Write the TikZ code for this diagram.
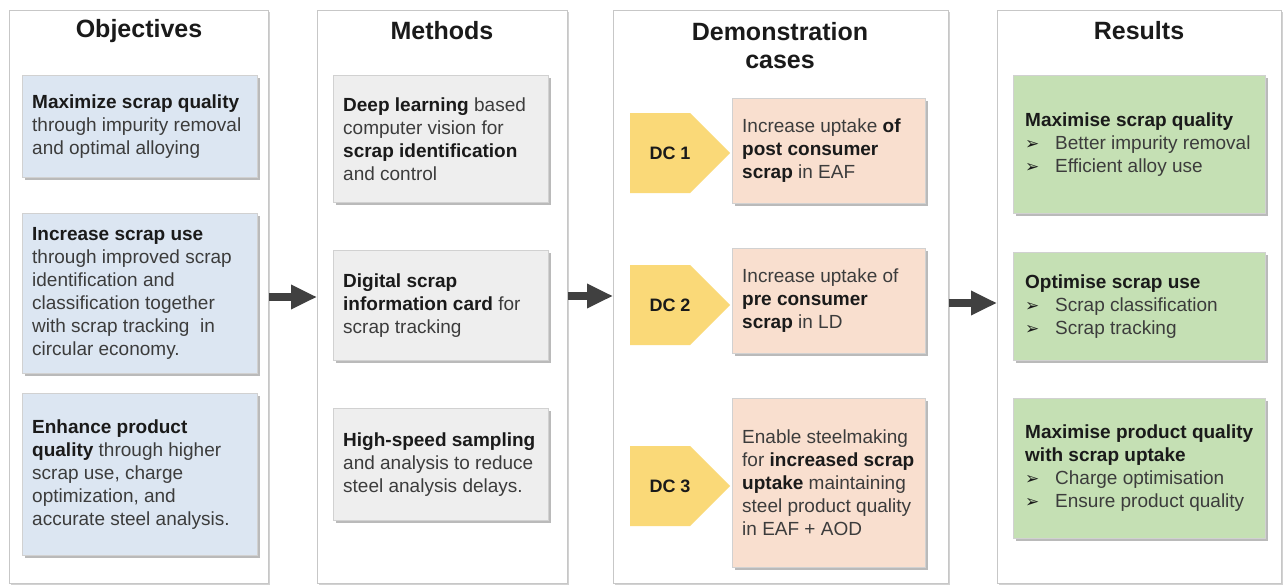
\documentclass[tikz,border=0pt]{standalone}
\usepackage{fontspec}
\setmainfont{Liberation Sans}
\newfontfamily\dejavu{DejaVu Sans}
\usetikzlibrary{shadows,arrows.meta,calc}
\definecolor{txt}{HTML}{3C3C3C}
\definecolor{bld}{HTML}{1A1A1A}
\definecolor{objfill}{HTML}{DCE6F2}
\definecolor{metfill}{HTML}{EEEEEE}
\definecolor{dcfill}{HTML}{F9DFCF}
\definecolor{resfill}{HTML}{C5E0B4}
\definecolor{tabfill}{HTML}{FAD978}
\definecolor{arr}{HTML}{404040}
\newcommand\bt[1]{\textbf{\color{bld}#1}}
\newcommand\bul{\makebox[30pt][l]{\color{bld}\dejavu\fontsize{17}{17}\selectfont ➢}}
\begin{document}
\begin{tikzpicture}[x=1pt,y=-1pt,
  panel/.style={draw=black!22, fill=white, line width=0.8pt, inner sep=0pt, anchor=north west,
    drop shadow={shadow xshift=1.5pt, shadow yshift=-1.5pt, opacity=0.35, fill=black!50}},
  card/.style={draw=black!18, line width=0.6pt, inner sep=0pt, anchor=north west,
    drop shadow={shadow xshift=2.5pt, shadow yshift=-2.5pt, opacity=0.45, fill=black!60}},
  sz/.style 2 args={minimum width=#1pt, minimum height=#2pt},
  body/.style={anchor=west, align=left, inner sep=0pt, text=txt, font=\fontsize{19}{23}\selectfont},
  title/.style={font=\fontsize{25}{28}\selectfont\bfseries, text=bld, align=center, inner sep=0pt},
  dcl/.style={font=\fontsize{18}{20}\selectfont\bfseries, text=bld, inner sep=0pt},
  bigarrow/.style={arr, line width=8pt, -{Triangle[length=26pt,width=23pt]}}
]
\useasboundingbox[fill=white] (0,0) rectangle (1284,586);

% panels
\node[panel, sz={259}{573}] (p1) at (9,10) {};
\node[panel, sz={250}{573}] (p2) at (317,10) {};
\node[panel, sz={335}{573}] (p3) at (613,10) {};
\node[panel, sz={284}{573}] (p4) at (997,10) {};

% titles
\node[title] (t1) at (139,31) {Objectives};
\node[title] (t2) at (442,31) {Methods};
\node[title] (t3) at (780,46) {Demonstration\\cases};
\node[title] (t4) at (1139,31) {Results};

% objectives
\node[card, fill=objfill, sz={235}{102}] (o1) at (22,75) {};
\node[card, fill=objfill, sz={235}{160}] (o2) at (22,213) {};
\node[card, fill=objfill, sz={235}{162}] (o3) at (22,393) {};
\node[body] (o1t) at ([xshift=10pt]o1.west) {\bt{Maximize scrap quality}\\through impurity removal\\and optimal alloying};
\node[body] (o2t) at ([xshift=10pt]o2.west) {\bt{Increase scrap use}\\through improved scrap\\identification and\\classification together\\with scrap tracking\ \ in\\circular economy.};
\node[body] (o3t) at ([xshift=10pt]o3.west) {\bt{Enhance product}\\\bt{quality} through higher\\scrap use, charge\\optimization, and\\accurate steel analysis.};

% methods
\node[card, fill=metfill, sz={215}{127}] (m1) at (333,75) {};
\node[card, fill=metfill, sz={215}{110}] (m2) at (333,250) {};
\node[card, fill=metfill, sz={215}{112}] (m3) at (333,408) {};
\node[body] (m1t) at ([xshift=10pt]m1.west) {\bt{Deep learning} based\\computer vision for\\\bt{scrap identification}\\and control};
\node[body] (m2t) at ([xshift=10pt]m2.west) {\bt{Digital scrap}\\\bt{information card} for\\scrap tracking};
\node[body] (m3t) at ([xshift=10pt]m3.west) {\bt{High-speed sampling}\\and analysis to reduce\\steel analysis delays.};

% demonstration cases
\node[card, fill=dcfill, sz={193}{105}] (d1) at (732,98) {};
\node[card, fill=dcfill, sz={193}{105}] (d2) at (732,248) {};
\node[card, fill=dcfill, sz={193}{169}] (d3) at (732,398) {};
\node[body] (d1t) at ([xshift=10pt]d1.west) {Increase uptake \bt{of}\\\bt{post consumer}\\\bt{scrap} in EAF};
\node[body] (d2t) at ([xshift=10pt]d2.west) {Increase uptake of\\\bt{pre consumer}\\\bt{scrap} in LD};
\node[body] (d3t) at ([xshift=10pt]d3.west) {Enable steelmaking\\for \bt{increased scrap}\\\bt{uptake} maintaining\\steel product quality\\in EAF + AOD};

\foreach \n/\yy in {1/153, 2/305, 3/486}{
  \coordinate (dc\n c) at (670,\yy);
  \fill[tabfill] ($(dc\n c)+(-40,-40)$) -- ($(dc\n c)+(20,-40)$) -- ($(dc\n c)+(60,0)$)
     -- ($(dc\n c)+(20,40)$) -- ($(dc\n c)+(-40,40)$) -- cycle;
  \node[dcl] (dc\n) at (dc\n c) {DC \n};
}

% results
\node[card, fill=resfill, sz={252}{138}] (r1) at (1013,75) {};
\node[card, fill=resfill, sz={252}{108}] (r2) at (1013,252) {};
\node[card, fill=resfill, sz={252}{140}] (r3) at (1013,398) {};
\node[body] (r1t) at ([xshift=12pt]r1.west) {\bt{Maximise scrap quality}\\\bul Better impurity removal\\\bul Efficient alloy use};
\node[body] (r2t) at ([xshift=12pt]r2.west) {\bt{Optimise scrap use}\\\bul Scrap classification\\\bul Scrap tracking};
\node[body] (r3t) at ([xshift=12pt]r3.west) {\bt{Maximise product quality}\\\bt{with scrap uptake}\\\bul Charge optimisation\\\bul Ensure product quality};

% arrows
\draw[bigarrow] (p1.east |- 0,297) -- (p2.west |- 0,297);
\draw[bigarrow] (p2.east |- 0,296) -- (p3.west |- 0,296);
\draw[bigarrow] (p3.east |- 0,303) -- (p4.west |- 0,303);
\end{tikzpicture}
\end{document}
